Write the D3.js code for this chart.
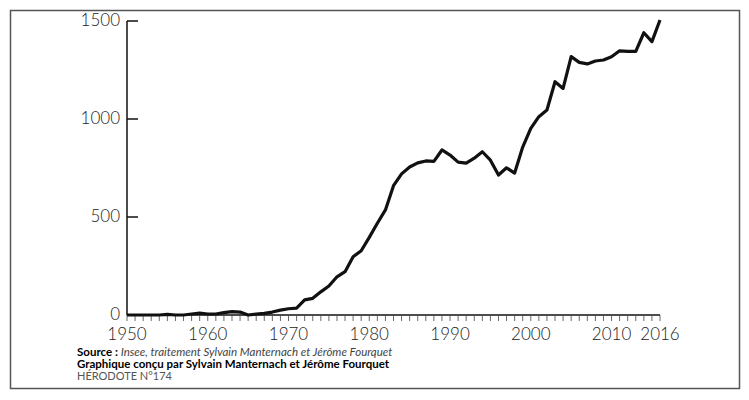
<!DOCTYPE html><html><head><meta charset="utf-8">
<script src="https://cdn.jsdelivr.net/npm/d3@7"></script>
<style>body{margin:0;background:#fff}svg{font-family:Lato,sans-serif}</style></head><body>
<svg id="c" width="749" height="400"></svg>
<script>
const years = d3.range(1950, 2017);
const values = [0,0,0,0,0,3,0,0,5,10,5,5,12,17,15,0,5,8,15,25,32,35,77,85,118,148,195,221,297,328,396,468,536,660,720,755,776,786,784,842,816,780,775,800,833,790,714,751,724,857,952,1012,1046,1190,1156,1318,1289,1281,1296,1301,1318,1348,1345,1345,1440,1395,1505];
const yTicks = [0,500,1000,1500];
const xTicks = [1950,1960,1970,1980,1990,2000,2010,2016];
const svg = d3.select("#c");
svg.append("rect").attr("x",10.5).attr("y",10.5).attr("width",729).attr("height",378).attr("fill","none").attr("stroke","#555").attr("stroke-width",1.5);
const x = d3.scaleLinear().domain([1950,2016]).range([127,660]);
const y = d3.scaleLinear().domain([0,1500]).range([315,21]);
const g = svg.append("g");
g.append("line").attr("x1",127).attr("x2",127).attr("y1",21).attr("y2",315).attr("stroke","#111").attr("stroke-width",1.5);
g.append("line").attr("x1",127).attr("x2",660).attr("y1",315).attr("y2",315).attr("stroke","#111").attr("stroke-width",1.5);
yTicks.forEach(t=>{
 g.append("line").attr("x1",127).attr("x2",138).attr("y1",y(t)).attr("y2",y(t)).attr("stroke","#111").attr("stroke-width",1.5);
 g.append("text").attr("x",120).attr("y",y(t)+5).attr("text-anchor","end").attr("font-size",17).attr("font-weight",300).attr("fill","#222").text(t);
});
years.forEach(t=>g.append("line").attr("x1",x(t)).attr("x2",x(t)).attr("y1",315).attr("y2",321).attr("stroke","#444").attr("stroke-width",0.8));
xTicks.forEach(t=>g.append("text").attr("x",x(t)).attr("y",340).attr("text-anchor","middle").attr("font-size",17).attr("font-weight",300).attr("fill","#222").text(t));
svg.append("path").datum(values).attr("fill","none").attr("stroke","#111").attr("stroke-width",3.2).attr("stroke-linejoin","round")
 .attr("d",d3.line().x((d,i)=>x(years[i])).y(d=>y(d)));
const t1 = svg.append("text").attr("x",77).attr("y",356).attr("font-size",11.5);
t1.append("tspan").attr("font-weight","bold").text("Source : ");
t1.append("tspan").attr("font-style","italic").attr("fill","#444").text("Insee, traitement Sylvain Manternach et Jérôme Fourquet");
svg.append("text").attr("x",77).attr("y",368).attr("font-size",11.5).attr("font-weight","bold").text("Graphique conçu par Sylvain Manternach et Jérôme Fourquet");
svg.append("text").attr("x",77).attr("y",380).attr("font-size",11).attr("fill","#555").text("HÉRODOTE N°174");
</script></body></html>
